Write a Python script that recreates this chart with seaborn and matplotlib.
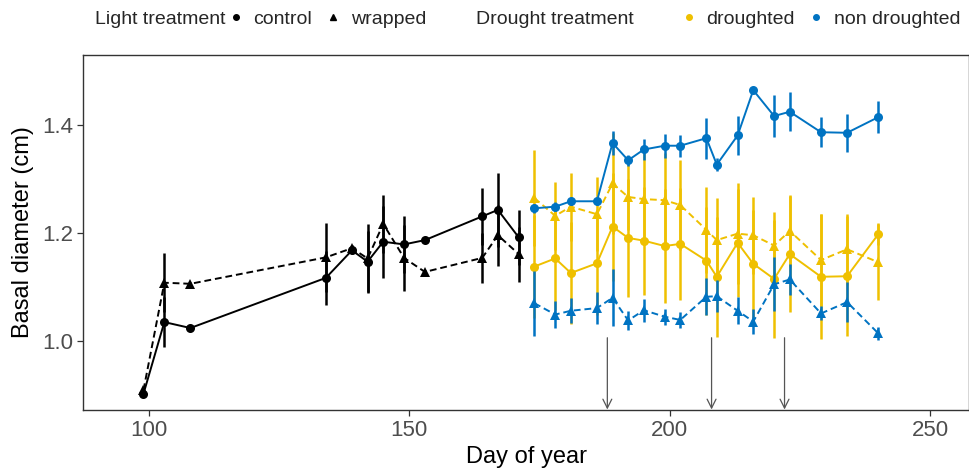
import numpy as np
import pandas as pd
import matplotlib
matplotlib.use("Agg")
import matplotlib.pyplot as plt
import seaborn as sns
from matplotlib.lines import Line2D

sns.set_theme(style="white")
plt.rcParams['font.family'] = ['Liberation Sans', 'DejaVu Sans']

# ---- data ----
days_light = [99, 103, 108, 134, 139, 142, 145, 149, 153, 164, 167, 171]
light_control = [0.902, 1.035, 1.024, 1.117, 1.168, 1.147, 1.184, 1.179, 1.187, 1.231, 1.243, 1.192]
light_control_se = [0.004, 0.046, 0.003, 0.050, 0.006, 0.056, 0.067, 0.053, 0.004, 0.053, 0.069, 0.051]
light_wrapped = [0.909, 1.108, 1.106, 1.155, 1.172, 1.153, 1.217, 1.154, 1.128, 1.154, 1.196, 1.161]
light_wrapped_se = [0.004, 0.055, 0.003, 0.064, 0.006, 0.064, 0.053, 0.061, 0.004, 0.047, 0.057, 0.051]

days_drought = [174, 178, 181, 186, 189, 192, 195, 199, 202, 207, 209, 213, 216, 220, 223, 229, 234, 240]
dr_control = [1.138, 1.153, 1.126, 1.144, 1.212, 1.191, 1.186, 1.176, 1.180, 1.149, 1.119, 1.182,
              1.143, 1.115, 1.161, 1.119, 1.120, 1.198]
dr_control_se = [0.095, 0.095, 0.095, 0.095, 0.100, 0.109, 0.100, 0.106, 0.104, 0.100, 0.111, 0.100,
                 0.100, 0.110, 0.107, 0.116, 0.111, 0.020]
dr_wrapped = [1.265, 1.232, 1.249, 1.235, 1.292, 1.267, 1.263, 1.261, 1.252, 1.206, 1.187, 1.199,
              1.196, 1.177, 1.204, 1.150, 1.170, 1.146]
dr_wrapped_se = [0.089, 0.063, 0.063, 0.069, 0.093, 0.061, 0.085, 0.087, 0.084, 0.080, 0.078, 0.093,
                 0.071, 0.062, 0.066, 0.085, 0.066, 0.070]
nd_control = [1.246, 1.249, 1.259, 1.259, 1.367, 1.335, 1.355, 1.362, 1.362, 1.376, 1.327, 1.381,
              1.465, 1.417, 1.425, 1.387, 1.386, 1.415]
nd_control_se = [0.008, 0.008, 0.006, 0.006, 0.022, 0.010, 0.020, 0.022, 0.020, 0.038, 0.012, 0.036,
                 0.003, 0.039, 0.036, 0.028, 0.035, 0.030]
nd_wrapped = [1.070, 1.049, 1.056, 1.061, 1.080, 1.038, 1.057, 1.045, 1.039, 1.082, 1.083, 1.056,
              1.036, 1.105, 1.114, 1.051, 1.072, 1.014]
nd_wrapped_se = [0.060, 0.025, 0.023, 0.030, 0.053, 0.018, 0.021, 0.015, 0.015, 0.034, 0.030, 0.025,
                 0.024, 0.050, 0.028, 0.013, 0.037, 0.012]

arrow_days = [188, 208, 222]

x_ticks = [100, 150, 200, 250]
y_ticks = [1.0, 1.2, 1.4]

BLACK = "#000000"
YELLOW = "#EFC000"
BLUE = "#0073C2"

# ---- tidy frame ----
rows = []
def add(days, vals, ses, light, group):
    for d, v, s in zip(days, vals, ses):
        rows.append(dict(day=d, diam=v, se=s, light=light, group=group))

add(days_light, light_control, light_control_se, "control", "pre")
add(days_light, light_wrapped, light_wrapped_se, "wrapped", "pre")
add(days_drought, dr_control, dr_control_se, "control", "droughted")
add(days_drought, dr_wrapped, dr_wrapped_se, "wrapped", "droughted")
add(days_drought, nd_control, nd_control_se, "control", "non droughted")
add(days_drought, nd_wrapped, nd_wrapped_se, "wrapped", "non droughted")
df = pd.DataFrame(rows)

fig = plt.figure(figsize=(9.7, 4.71), dpi=100)
ax = fig.add_axes([0.0856, 0.1295, 0.9134, 0.7535])

palette = {"pre": BLACK, "droughted": YELLOW, "non droughted": BLUE}
markers = {"control": "o", "wrapped": "^"}
dashes = {"control": "", "wrapped": (3.5, 2)}

for z, grp in enumerate(["pre", "droughted", "non droughted"]):
    sub = df[df.group == grp]
    col = palette[grp]
    for lt in ["control", "wrapped"]:
        s = sub[sub.light == lt]
        ax.errorbar(s.day, s.diam, yerr=s.se, fmt="none", ecolor=col,
                    elinewidth=1.8, capsize=0, zorder=2 + 2 * z)
    sns.lineplot(data=sub, x="day", y="diam", style="light", markers=markers,
                 dashes=dashes, color=col, ax=ax, legend=False, linewidth=1.4,
                 markersize=6.5, markeredgewidth=0, estimator=None,
                 zorder=3 + 2 * z)

for d in arrow_days:
    ax.annotate("", xy=(d, 0.873), xytext=(d, 1.006),
                arrowprops=dict(arrowstyle="->", color="#555555", lw=0.9,
                                mutation_scale=16, shrinkA=0, shrinkB=0),
                zorder=1)

ax.set_xlim(87.4, 257.4)
ax.set_ylim(0.872, 1.530)
ax.set_xticks(x_ticks)
ax.set_yticks(y_ticks)
ax.set_yticklabels([f"{v:.1f}" for v in y_ticks])
ax.tick_params(axis="both", labelsize=16, labelcolor="#4D4D4D", color="#333333",
               length=4, width=0.9, bottom=True, left=True, direction="out", pad=3)
for sp in ax.spines.values():
    sp.set_color("#333333")
    sp.set_linewidth(1.0)
ax.set_xlabel("Day of year", fontsize=17, color="black", labelpad=4)
ax.set_ylabel("Basal diameter (cm)", fontsize=17, color="black", labelpad=6)
ax.grid(False)

# ---- legends ----
leg_fs = 14
fig.text(95 / 970, 1 - 19 / 471, "Light treatment", fontsize=leg_fs, va="center", ha="left")
fig.text(476 / 970, 1 - 19 / 471, "Drought treatment", fontsize=leg_fs, va="center", ha="left")

h1 = [Line2D([], [], marker="o", color="black", linestyle="none", markersize=4),
      Line2D([], [], marker="^", color="black", linestyle="none", markersize=4)]
leg1 = fig.legend(h1, ["control", "wrapped"], loc="center left",
                  bbox_to_anchor=(226 / 970, 1 - 19 / 471), ncol=2, frameon=False,
                  fontsize=leg_fs, handlelength=1.0, handletextpad=0.4, columnspacing=0.6,
                  borderaxespad=0, borderpad=0)
h2 = [Line2D([], [], marker="o", color=YELLOW, linestyle="none", markersize=4),
      Line2D([], [], marker="o", color=BLUE, linestyle="none", markersize=4)]
leg2 = fig.legend(h2, ["droughted", "non droughted"], loc="center left",
                  bbox_to_anchor=(679 / 970, 1 - 19 / 471), ncol=2, frameon=False,
                  fontsize=leg_fs, handlelength=1.0, handletextpad=0.4, columnspacing=0.6,
                  borderaxespad=0, borderpad=0)

fig.savefig("out.png", dpi=100)
